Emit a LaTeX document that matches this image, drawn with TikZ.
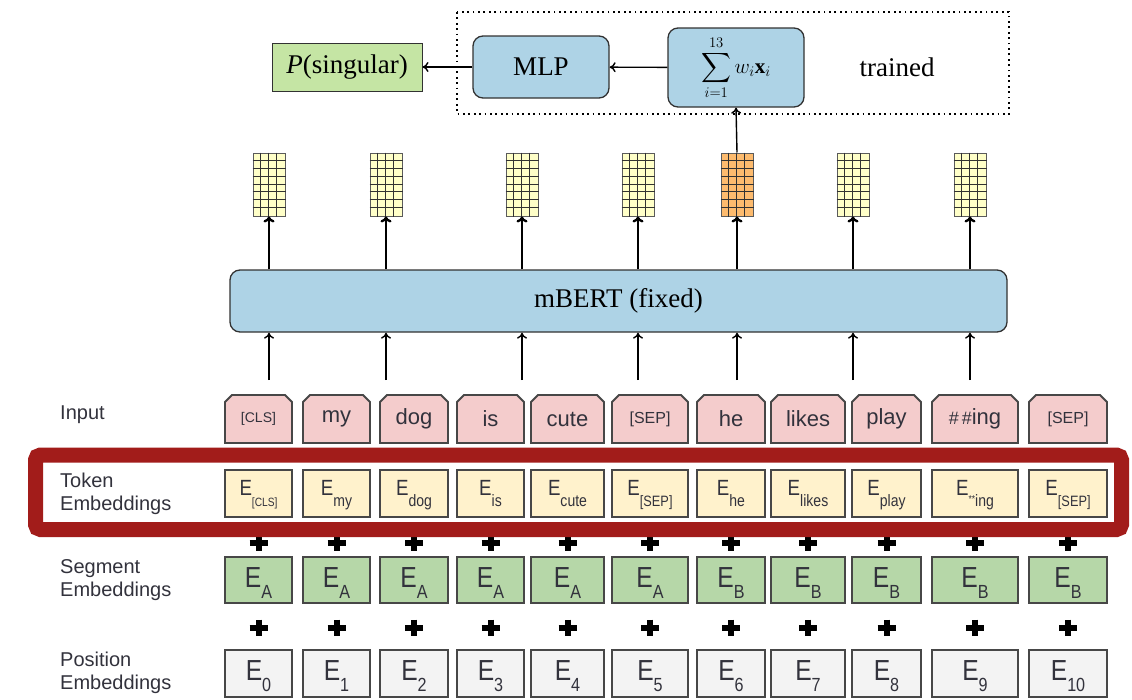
\RequirePackage{fix-cm}
\documentclass[tikz,border=0pt]{standalone}
\usepackage{amsmath}
\usepackage{graphicx}
\usepackage{fontspec}
\setmainfont{Liberation Serif}
\newfontfamily\labfont{Liberation Sans}
\usetikzlibrary{arrows.meta}
\definecolor{bluefill}{RGB}{174,211,230}
\definecolor{boxline}{RGB}{50,50,50}
\definecolor{greenP}{RGB}{197,229,164}
\definecolor{pinkin}{RGB}{244,204,204}
\definecolor{tokfill}{RGB}{255,242,204}
\definecolor{segfill}{RGB}{182,215,168}
\definecolor{posfill}{RGB}{243,243,243}
\definecolor{redc}{RGB}{162,28,26}
\definecolor{vecY}{RGB}{255,255,200}
\definecolor{vecO}{RGB}{253,187,110}
\definecolor{txtc}{RGB}{50,50,60}
\tikzset{
  serif/.style={font=\fontsize{27}{32}\selectfont},
  bluebox/.style={draw=boxline, line width=1.3pt, fill=bluefill, rounded corners=10pt, inner sep=0pt, serif},
  greenbox/.style={draw=boxline, line width=1pt, fill=greenP, inner sep=0pt, serif},
  arr/.style={line width=1.4pt, -{Computer Modern Rightarrow[length=6pt,width=10pt]}},
  arrthick/.style={line width=2.4pt, -{Computer Modern Rightarrow[length=6pt,width=11pt]}},
  dotbox/.style={line width=1.8pt, dash pattern=on 1.8pt off 3.6pt},
  vecbox/.style={draw=boxline!80, line width=1pt, minimum width=32, minimum height=63, inner sep=0pt},
  gridl/.style={line width=0.8pt, boxline},
  lab/.style={font=\labfont\fontsize{20}{23}\selectfont, text=txtc, align=left, anchor=west, inner sep=0pt},
  inframe/.style={draw=boxline!90, line width=1.8pt, fill=pinkin},
  intext/.style={font=\labfont\fontsize{22}{22}\selectfont, text=txtc, inner sep=0pt},
  embox/.style={draw=boxline!90, line width=1.8pt, inner sep=0pt, font=\labfont, text=txtc},
  tokrow/.style={embox, fill=tokfill, minimum height=47, text height=16pt, text depth=13pt},
  segrow/.style={embox, fill=segfill, minimum height=46, text height=22pt, text depth=8pt},
  posrow/.style={embox, fill=posfill, minimum height=47, text height=22pt, text depth=8pt},
  plusmark/.style={line width=6pt, black},
}
\newcommand\inbox[4]{%
  \draw[inframe] (#2,443) -- (#2,402) -- (#2+7,395) -- (#3-7,395) -- (#3,402) -- (#3,443) -- cycle;
  \node[intext, minimum width={(#3-#2)*1pt}, minimum height=48] (#1) at ({(#2+#3)/2},419) {#4};
}
\newcommand\Es[4]{\scalebox{0.85}[1]{\fontsize{#2}{#2}\selectfont E\raisebox{#4}{\fontsize{#3}{#3}\selectfont #1}}}
\begin{document}
\begin{tikzpicture}[x=1pt,y=-1pt]
\useasboundingbox (0,0) rectangle (1132,699);
% ---- top part
\node[greenbox, minimum width=150, minimum height=48] (p) at (347,67) {\textit{P}(singular)};
\node[bluebox, minimum width=136, minimum height=62] (mlp) at (541,67) {MLP};
\node[bluebox, minimum width=136, minimum height=79] (sum) at (736,67.5) {\fontsize{21}{25}\selectfont$\displaystyle\sum_{i=1}^{13} w_i\mathbf{x}_i$};
\node[serif] (tr) at (897,67) {trained};
\draw[dotbox] (457,12) rectangle (1009,114);
\draw[arr] (sum) -- (mlp);
\draw[arr] (mlp) -- (p);
% ---- mBERT
\node[bluebox, minimum width=777, minimum height=62] (bert) at (618.5,301) {mBERT (fixed)};
% ---- vectors and arrows
\foreach \i/\x/\c in {1/269/vecY,2/386/vecY,3/522/vecY,4/638/vecY,5/737/vecO,6/853/vecY,7/970/vecY}{
  \node[vecbox, fill=\c] (v\i) at (\x,184.5) {};
  \foreach \k in {1,2,3}{
    \draw[gridl] ([xshift=\k*8pt]v\i.north west) -- ([xshift=\k*8pt]v\i.south west);}
  \foreach \k in {1,...,7}{
    \draw[gridl] ([yshift=-\k*7.875pt]v\i.north west) -- ([yshift=-\k*7.875pt]v\i.north east);}
  \draw[arrthick] (v\i.south |- bert.north) -- (v\i.south);
  \coordinate (b\i) at (\x,380);
  \draw[arr] (b\i) -- (b\i |- bert.south);
}
\draw[arr] (v5.north) -- (sum.south);
% ---- row labels
\node[lab] (lin) at (60,415) {Input};
\node[lab] (ltok) at (60,494) {Token\\Embeddings};
\node[lab] (lseg) at (60,580) {Segment\\Embeddings};
\node[lab] (lpos) at (60,673) {Position\\Embeddings};
% ---- input boxes
\inbox{i1}{225}{292}{\fontsize{14}{14}\selectfont [CLS]}
\inbox{i2}{303}{370}{my}
\inbox{i3}{380}{448}{dog}
\inbox{i4}{457}{524}{is}
\inbox{i5}{531}{604}{cute}
\inbox{i6}{612}{688}{\fontsize{16}{16}\selectfont [SEP]}
\inbox{i7}{697}{765}{he}
\inbox{i8}{771}{845}{likes}
\inbox{i9}{852}{921}{play}
\inbox{i10}{932}{1018}{{\fontsize{18}{18}\selectfont\#\,\#}ing}
\inbox{i11}{1029}{1107}{\fontsize{16}{16}\selectfont [SEP]}
% ---- embedding rows
\foreach \n/\a/\b/\t/\s/\p in {
  1/225/292/{\fontsize{12}{12}\selectfont[CLS]}/A/0, 2/303/370/my/A/1, 3/380/448/dog/A/2, 4/457/524/is/A/3,
  5/531/604/cute/A/4, 6/612/688/{\fontsize{15}{15}\selectfont[SEP]}/A/5, 7/697/765/he/B/6, 8/771/845/likes/B/7,
  9/852/921/play/B/8, 10/932/1018/{{\fontsize{10}{10}\selectfont\raisebox{4pt}{**}}ing}/B/9, 11/1029/1107/{\fontsize{15}{15}\selectfont[SEP]}/B/10}{
  \node[tokrow, minimum width={(\b-\a)*1pt}] (t\n) at ({(\a+\b)/2},493.5) {\Es{\t}{22}{16.5}{-11pt}};
  \node[segrow, minimum width={(\b-\a)*1pt}] (s\n) at ({(\a+\b)/2},580) {\Es{\s}{29}{19}{-11pt}};
  \node[posrow, minimum width={(\b-\a)*1pt}] (q\n) at ({(\a+\b)/2},673.5) {\Es{\p}{29}{19}{-11pt}};
  \draw[plusmark] ({(\a+\b)/2-9},543) -- ({(\a+\b)/2+9},543) ({(\a+\b)/2},535) -- ({(\a+\b)/2},551);
  \draw[plusmark] ({(\a+\b)/2-9},627.5) -- ({(\a+\b)/2+9},627.5) ({(\a+\b)/2},619.5) -- ({(\a+\b)/2},635.5);
}
% ---- red highlight
\draw[line width=15pt, redc, rounded corners=5pt] (35.5,455) rectangle (1121.5,529.5);
\end{tikzpicture}
\end{document}
